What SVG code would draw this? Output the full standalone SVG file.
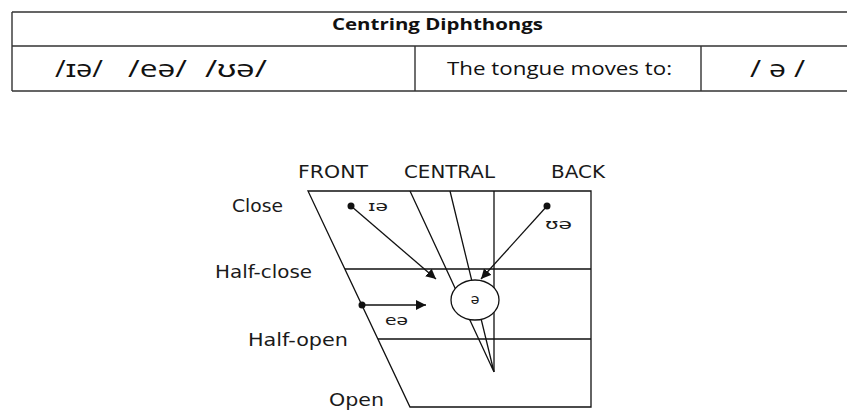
<svg xmlns="http://www.w3.org/2000/svg" width="847" height="412" viewBox="0 0 847 412">
<style>
.ln{stroke:#111;stroke-width:1.3;fill:none}
.tb{stroke:#333;stroke-width:1.4;fill:none}
.lbl{font-family:"DejaVu Sans",Verdana,sans-serif;font-size:17px;fill:#1a1a1a}
.ipa{font-family:"DejaVu Sans",sans-serif;font-size:14px;fill:#1a1a1a}
.hd{font-family:"Open Sans","Liberation Sans",sans-serif;fill:#111}
</style>
<defs>
<marker id="ah" viewBox="0 0 10 10" refX="10" refY="5" markerWidth="10" markerHeight="10" markerUnits="userSpaceOnUse" orient="auto">
<path d="M0,0 L10,5 L0,10 z" fill="#111"/>
</marker>
</defs>
<rect width="847" height="412" fill="#fff"/>
<g id="table">
<path class="tb" d="M12,12 H847 M12,46 H847 M12,91 H847 M12,12 V91 M415,46 V91 M701,46 V91"/>
<text class="hd" x="332" y="30" font-size="16" font-weight="bold" textLength="211" lengthAdjust="spacingAndGlyphs">Centring Diphthongs</text>
<text class="hd" x="55" y="77" font-size="24" textLength="48" lengthAdjust="spacingAndGlyphs">/ɪə/</text>
<text class="hd" x="128" y="77" font-size="24" textLength="59" lengthAdjust="spacingAndGlyphs">/eə/</text>
<text class="hd" x="205" y="77" font-size="24" textLength="62" lengthAdjust="spacingAndGlyphs">/ʊə/</text>
<text class="hd" x="447" y="75" font-size="18" textLength="225" lengthAdjust="spacingAndGlyphs">The tongue moves to:</text>
<text class="hd" x="750" y="77" font-size="24" textLength="55" lengthAdjust="spacingAndGlyphs">/ ə /</text>
</g>
<g id="chart">
<path class="ln" d="M308,191 H591 V407 H410 Z"/>
<path class="ln" d="M345,269 H591 M378,339 H591 M494,191 V372"/>
<path class="ln" d="M410,191 L494,372 M450,191 L494,372"/>
<ellipse cx="475" cy="300" rx="24" ry="20" fill="#fff" stroke="#111" stroke-width="1.3"/>
<text class="ipa" x="475" y="304" text-anchor="middle" font-size="12">ə</text>
</g>
<g id="labels">
<text class="lbl" x="298" y="178" textLength="70" lengthAdjust="spacingAndGlyphs">FRONT</text>
<text class="lbl" x="404" y="178" textLength="91" lengthAdjust="spacingAndGlyphs">CENTRAL</text>
<text class="lbl" x="551" y="178" textLength="54" lengthAdjust="spacingAndGlyphs">BACK</text>
<text class="lbl" x="232" y="212" textLength="51" lengthAdjust="spacingAndGlyphs">Close</text>
<text class="lbl" x="215" y="278" textLength="97" lengthAdjust="spacingAndGlyphs">Half-close</text>
<text class="lbl" x="248" y="346" textLength="100" lengthAdjust="spacingAndGlyphs">Half-open</text>
<text class="lbl" x="329" y="406" textLength="55" lengthAdjust="spacingAndGlyphs">Open</text>
</g>
<g id="connectors">
<circle cx="351" cy="206" r="3.5" fill="#111"/>
<line class="ln" x1="351" y1="206" x2="436" y2="279" marker-end="url(#ah)"/>
<circle cx="547" cy="206" r="3.5" fill="#111"/>
<line class="ln" x1="547" y1="206" x2="481" y2="279" marker-end="url(#ah)"/>
<circle cx="362" cy="305" r="3.5" fill="#111"/>
<line class="ln" x1="362" y1="305" x2="426" y2="305" marker-end="url(#ah)"/>
<text class="ipa" x="368" y="211" textLength="20" lengthAdjust="spacingAndGlyphs">ɪə</text>
<text class="ipa" x="545" y="229" textLength="27" lengthAdjust="spacingAndGlyphs">ʊə</text>
<text class="ipa" x="385" y="325" textLength="23" lengthAdjust="spacingAndGlyphs">eə</text>
</g>
</svg>
